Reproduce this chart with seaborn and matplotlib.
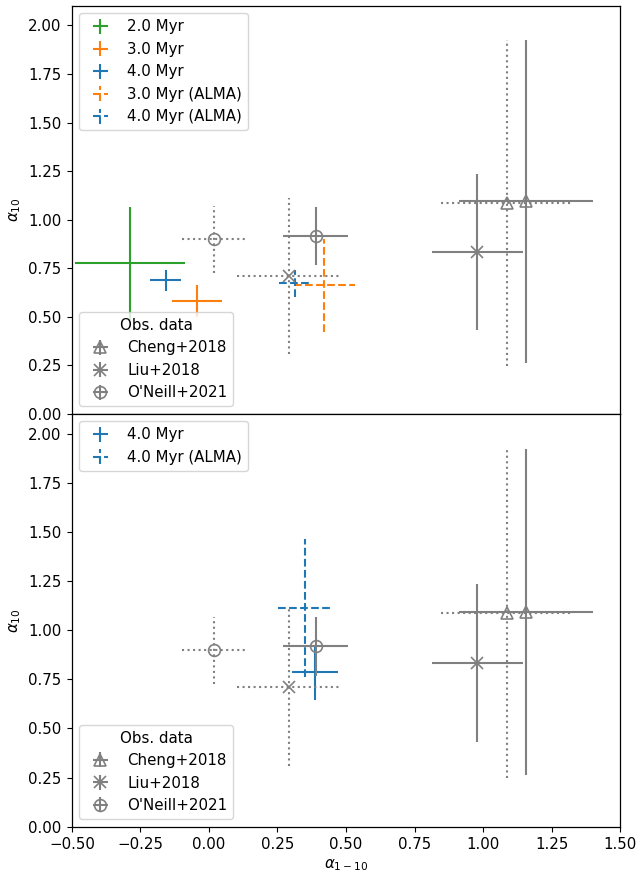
import matplotlib
matplotlib.use("Agg")
import matplotlib.pyplot as plt
import seaborn as sns
import numpy as np

sns.set_style("ticks")
plt.rcParams.update({"font.family": ["DejaVu Sans"], "font.size": 10.8,
                     "text.color": "black", "axes.labelcolor": "black",
                     "xtick.color": "black", "ytick.color": "black",
                     "xtick.direction": "out", "ytick.direction": "out",
                     "xtick.major.size": 3.8, "ytick.major.size": 3.8,
                     "axes.edgecolor": "black", "axes.linewidth": 0.9})

pal = sns.color_palette("tab10")
c_blue, c_orange, c_green = pal[0], pal[1], pal[2]
gray = "#808080"

# ---- model data (top panel) ----
model_labels = ["2.0 Myr", "3.0 Myr", "4.0 Myr"]
model_x = [-0.288, -0.045, -0.158]
model_y = [0.775, 0.581, 0.687]
model_xerr = [0.202, 0.091, 0.056]
model_yerr = [0.29, 0.084, 0.052]

alma_labels = ["3.0 Myr (ALMA)", "4.0 Myr (ALMA)"]
alma_x = [0.421, 0.314]
alma_y = [0.663, 0.672]
alma_xerr = [0.112, 0.057]
alma_yerr = [0.24, 0.07]

# ---- model data (bottom panel) ----
bot_x = [0.387]
bot_y = [0.785]
bot_xerr = [0.083]
bot_yerr = [0.14]
bot_alma_x = [0.35]
bot_alma_y = [1.114]
bot_alma_xerr = [0.097]
bot_alma_yerr = [0.35]

# ---- observational data ----
obs_labels = ["Cheng+2018", "Liu+2018", "O'Neill+2021"]
obs_markers = ["^", "x", "o"]
obs_x = [1.157, 0.979, 0.390]
obs_y = [1.094, 0.833, 0.917]
obs_xerr = [0.245, 0.165, 0.118]
obs_yerr = [0.83, 0.40, 0.15]

obs2_x = [1.086, 0.291, 0.019]
obs2_y = [1.086, 0.710, 0.898]
obs2_xerr = [0.24, 0.19, 0.117]
obs2_yerr = [0.84, 0.40, 0.17]

fig = plt.figure(figsize=(6.36, 8.73), dpi=100)
ax1 = fig.add_axes([0.113, 0.5258, 0.862, 0.4674])
ax2 = fig.add_axes([0.113, 0.053, 0.862, 0.4728], sharex=ax1)


def draw_obs(ax):
    handles = []
    for i in range(3):
        h = ax.errorbar(obs_x[i], obs_y[i], xerr=obs_xerr[i], yerr=obs_yerr[i],
                        fmt=obs_markers[i], color=gray, mfc="none", ms=8.5,
                        mew=1.2, elinewidth=1.5, label=obs_labels[i])
        handles.append(h)
        e = ax.errorbar(obs2_x[i], obs2_y[i], xerr=obs2_xerr[i], yerr=obs2_yerr[i],
                        fmt=obs_markers[i], color=gray, mfc="none", ms=8.5,
                        mew=1.2, elinewidth=1.5)
        for lc in e[2]:
            lc.set_linestyle(":")
    return handles


# top panel
h_model = []
cols = [c_green, c_orange, c_blue]
for i in range(3):
    h = ax1.errorbar(model_x[i], model_y[i], xerr=model_xerr[i], yerr=model_yerr[i],
                     fmt="none", ecolor=cols[i], elinewidth=1.5, label=model_labels[i])
    h_model.append(h)
acols = [c_orange, c_blue]
for i in range(2):
    h = ax1.errorbar(alma_x[i], alma_y[i], xerr=alma_xerr[i], yerr=alma_yerr[i],
                     fmt="none", ecolor=acols[i], elinewidth=1.5, label=alma_labels[i])
    for lc in h[2]:
        lc.set_linestyle("--")
    h_model.append(h)
obs_h1 = draw_obs(ax1)
leg1 = ax1.legend(handles=h_model, loc="upper left")
ax1.add_artist(leg1)
ax1.legend(handles=obs_h1, loc="lower left", title="Obs. data")

# bottom panel
hb = []
h = ax2.errorbar(bot_x[0], bot_y[0], xerr=bot_xerr[0], yerr=bot_yerr[0],
                 fmt="none", ecolor=c_blue, elinewidth=1.5, label="4.0 Myr")
hb.append(h)
h = ax2.errorbar(bot_alma_x[0], bot_alma_y[0], xerr=bot_alma_xerr[0], yerr=bot_alma_yerr[0],
                 fmt="none", ecolor=c_blue, elinewidth=1.5, label="4.0 Myr (ALMA)")
for lc in h[2]:
    lc.set_linestyle("--")
hb.append(h)
obs_h2 = draw_obs(ax2)
leg2 = ax2.legend(handles=hb, loc="upper left")
ax2.add_artist(leg2)
ax2.legend(handles=obs_h2, loc="lower left", title="Obs. data")

yt = np.arange(0, 2.01, 0.25)
for ax in (ax1, ax2):
    ax.set_xlim(-0.5, 1.5)
    ax.set_ylim(0, 2.1)
    ax.set_yticks(yt)
    ax.set_yticklabels([f"{v:.2f}" for v in yt])
    ax.set_ylabel(r"$\alpha_{10}$")
    for s in ax.spines.values():
        s.set_visible(True)
xt = np.arange(-0.5, 1.51, 0.25)
ax2.set_xticks(xt)
ax2.set_xticklabels([f"{v:.2f}".replace("-", "\u2212") for v in xt])
ax1.tick_params(axis="x", labelbottom=False, bottom=False)
ax2.set_xlabel(r"$\alpha_{1-10}$")

fig.savefig("out.png", dpi=100)
